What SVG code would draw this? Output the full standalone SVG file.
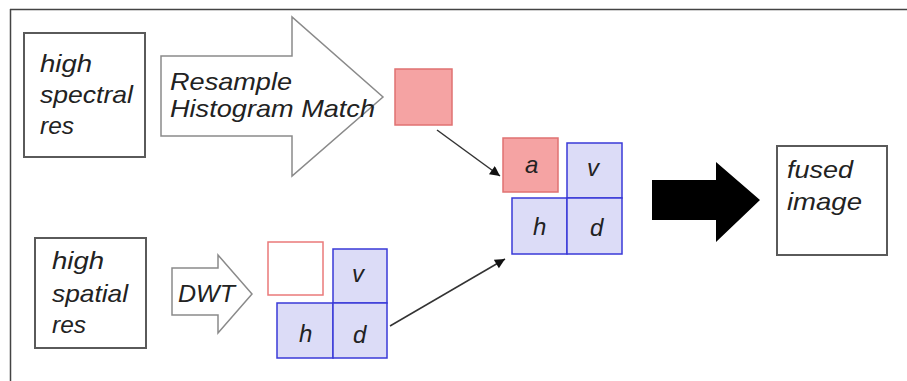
<svg xmlns="http://www.w3.org/2000/svg" width="907" height="381" viewBox="0 0 907 381">
  <defs>
    <style>
      .t { font-family: "Liberation Sans", Arial, sans-serif; font-style: italic; font-size: 24px; fill: #222222; }
      .box { fill: #ffffff; stroke: #5a5a5a; stroke-width: 2; }
      .hollow { fill: #ffffff; stroke: #8a8a8a; stroke-width: 1.5; }
      .pink { fill: #f5a3a3; stroke: #e07272; stroke-width: 1.5; }
      .empty { fill: #ffffff; stroke: #ea7a7a; stroke-width: 1.5; }
      .blue { fill: #dcdcf7; stroke: #3a3ad8; stroke-width: 1.5; }
      .conn { stroke: #333333; stroke-width: 1.5; fill: none; }
    </style>
    <marker id="ah" viewBox="0 0 10 10" refX="10" refY="5" markerWidth="15" markerHeight="10" orient="auto" markerUnits="userSpaceOnUse">
      <path d="M0,0 L10,5 L0,10 z" fill="#111111"/>
    </marker>
  </defs>
  <rect width="907" height="381" fill="#ffffff"/>
  <g id="frame">
    <line x1="10" y1="9.5" x2="907" y2="9.5" stroke="#444" stroke-width="1.5"/>
    <line x1="10.5" y1="9" x2="10.5" y2="381" stroke="#444" stroke-width="1.5"/>
  </g>

  <g id="high-spectral">
    <rect class="box" x="24" y="33" width="121" height="124"/>
    <text class="t" x="40" y="72" textLength="52" lengthAdjust="spacingAndGlyphs">high</text>
    <text class="t" x="40" y="103" textLength="93" lengthAdjust="spacingAndGlyphs">spectral</text>
    <text class="t" x="40" y="134" textLength="34" lengthAdjust="spacingAndGlyphs">res</text>
  </g>

  <g id="resample-arrow">
    <path class="hollow" d="M161,56 L292,56 L292,17 L383,97 L292,176 L292,136 L161,136 Z"/>
    <text class="t" x="170" y="90" textLength="122" lengthAdjust="spacingAndGlyphs">Resample</text>
    <text class="t" x="170" y="117" textLength="205" lengthAdjust="spacingAndGlyphs">Histogram Match</text>
  </g>

  <g id="pink-square">
    <rect class="pink" x="395" y="69" width="57" height="56"/>
  </g>

  <g id="high-spatial">
    <rect class="box" x="35" y="238" width="111" height="110"/>
    <text class="t" x="52" y="269" textLength="52" lengthAdjust="spacingAndGlyphs">high</text>
    <text class="t" x="52" y="302" textLength="76" lengthAdjust="spacingAndGlyphs">spatial</text>
    <text class="t" x="52" y="333" textLength="34" lengthAdjust="spacingAndGlyphs">res</text>
  </g>

  <g id="dwt-arrow">
    <path class="hollow" d="M172,268 L218,268 L218,255 L252,294 L218,333 L218,315 L172,315 Z"/>
    <text class="t" x="178" y="302" textLength="57" lengthAdjust="spacingAndGlyphs">DWT</text>
  </g>

  <g id="dwt-output">
    <rect class="empty" x="268" y="242" width="55" height="53"/>
    <rect class="blue" x="333" y="249" width="54" height="54"/>
    <rect class="blue" x="277" y="303" width="56" height="55"/>
    <rect class="blue" x="333" y="303" width="54" height="55"/>
    <text class="t" x="352" y="282">v</text>
    <text class="t" x="299" y="342">h</text>
    <text class="t" x="353" y="343">d</text>
  </g>

  <g id="fused-coeffs">
    <rect class="blue" x="567" y="143" width="55" height="55"/>
    <rect class="blue" x="512" y="198" width="55" height="56"/>
    <rect class="blue" x="567" y="198" width="55" height="56"/>
    <rect class="pink" x="503" y="138" width="55" height="54"/>
    <text class="t" x="525" y="173">a</text>
    <text class="t" x="587" y="176">v</text>
    <text class="t" x="533" y="235">h</text>
    <text class="t" x="590" y="236">d</text>
  </g>

  <g id="black-arrow">
    <path d="M652,180 L716,180 L716,162 L760,200 L716,242 L716,220 L652,220 Z" fill="#000000"/>
  </g>

  <g id="fused-image">
    <rect class="box" x="777" y="146" width="110" height="109"/>
    <text class="t" x="787" y="178" textLength="66" lengthAdjust="spacingAndGlyphs">fused</text>
    <text class="t" x="787" y="210" textLength="75" lengthAdjust="spacingAndGlyphs">image</text>
  </g>

  <g id="connectors">
    <line class="conn" x1="437" y1="130" x2="500" y2="176" marker-end="url(#ah)"/>
    <line class="conn" x1="390" y1="326" x2="505" y2="259" marker-end="url(#ah)"/>
  </g>
</svg>
